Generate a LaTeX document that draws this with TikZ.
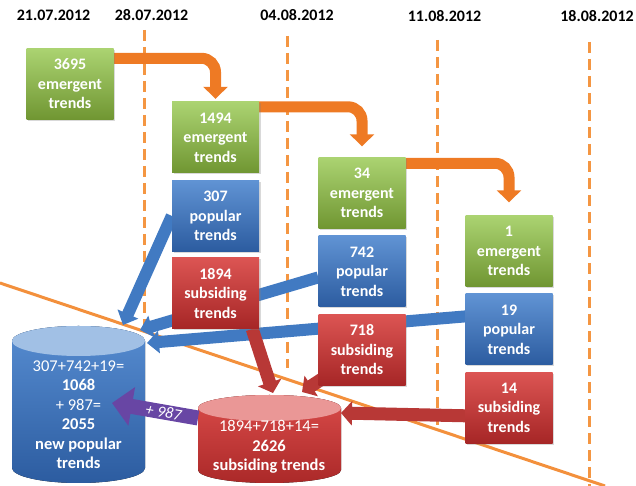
\documentclass[tikz,border=0pt]{standalone}
\usepackage{fontspec}
\setmainfont{Carlito}
\usepackage{tikz}
\usetikzlibrary{arrows.meta,positioning,shadows}
\definecolor{emergent}{RGB}{150,200,78}
\definecolor{emergentdark}{RGB}{112,150,50}
\definecolor{popular}{RGB}{68,128,204}
\definecolor{populardark}{RGB}{44,92,160}
\definecolor{subsiding}{RGB}{216,66,64}
\definecolor{subsidingdark}{RGB}{166,38,38}
\definecolor{weekcolor}{RGB}{244,150,66}
\definecolor{flow}{RGB}{238,122,36}
\definecolor{mixed}{RGB}{104,70,164}
\pgfdeclarelayer{back}
\pgfsetlayers{back,main}

\begin{document}
\begin{tikzpicture}[
  x=1pt, y=1pt,
  node distance=7pt,
  trendbox/.style={minimum width=87pt, minimum height=71pt, inner sep=0pt, align=center, text=white,
    font=\fontsize{16}{19.5}\selectfont\bfseries,
    drop shadow={opacity=0.3, shadow xshift=1.5pt, shadow yshift=-1.5pt}},
  emergentbox/.style={trendbox, top color=emergent!80!white, bottom color=emergentdark},
  popularbox/.style={trendbox, top color=popular!85!white, bottom color=populardark},
  subsidingbox/.style={trendbox, top color=subsiding!90!white, bottom color=subsidingdark},
  datelabel/.style={font=\fontsize{16}{19}\selectfont\bfseries},
  cyltext/.style={align=center, text=white, font=\fontsize{16.5}{19.5}\selectfont},
  weekline/.style={draw=weekcolor, line width=3pt, dash pattern=on 11pt off 6pt},
  cutline/.style={draw=weekcolor!80!flow, line width=3pt},
  flowarr/.style={-{Triangle[width=24pt,length=12pt]}, line width=11pt, draw=flow, rounded corners=14pt},
  poparr/.style={-{Triangle[width=22pt,length=12pt]}, line width=12pt, draw=popular!95!black},
  subarr/.style={-{Triangle[width=24pt,length=11pt]}, line width=13pt, draw=subsiding!85!black},
  mixarr/.style={-{Triangle[width=38pt,length=20pt]}, line width=15pt, draw=mixed}
]
  \useasboundingbox (0,0) rectangle (636,486);

  % dates
  \node[datelabel] (d1) at (53.5,471) {21.07.2012};
  \node[datelabel] (d2) at (151.5,471) {28.07.2012};
  \node[datelabel] (d3) at (297,471) {04.08.2012};
  \node[datelabel] (d4) at (444.5,470) {11.08.2012};
  \node[datelabel] (d5) at (597,470) {18.08.2012};

  % weekly trend boxes
  \node[emergentbox] (em1) at (70,402) {3695\\emergent\\trends};
  \node[emergentbox] (em2) at (215.5,348.5) {1494\\emergent\\trends};
  \node[popularbox, below=of em2] (pop2) {307\\popular\\trends};
  \node[subsidingbox, below=6pt of pop2] (sub2) {1894\\subsiding\\trends};
  \node[emergentbox] (em3) at (362,293) {34\\emergent\\trends};
  \node[popularbox, below=of em3] (pop3) {742\\popular\\trends};
  \node[subsidingbox, below=of pop3] (sub3) {718\\subsiding\\trends};
  \node[emergentbox] (em4) at (509,235) {1\\emergent\\trends};
  \node[popularbox, below=of em4] (pop4) {19\\popular\\trends};
  \node[subsidingbox, below=of pop4] (sub4) {14\\subsiding\\trends};

  % totals
  \node[cyltext] (popcyl) at (78.5,71.5) {307+742+19=\\\textbf{1068}\\+ 987=\\\textbf{2055}\\\textbf{new popular}\\\textbf{trends}};
  \node[cyltext] (subcyl) at (269,39) {1894+718+14=\\\textbf{2626}\\\textbf{subsiding trends}};
  \coordinate (popcyl in1) at (123,161);
  \coordinate (popcyl in2) at (140,156);
  \coordinate (popcyl in3) at (147,143);
  \coordinate (popcyl in4) at (112,83);
  \coordinate (subcyl in1) at (273,93);
  \coordinate (subcyl in2) at (302,94);
  \coordinate (subcyl in3) at (341,73);
  \coordinate (subcyl out) at (198,68);

  \begin{pgfonlayer}{back}
    % week lines
    \draw[weekline] (144,456) -- (144,156);
    \draw[weekline] (287,450) -- (287,118);
    \draw[weekline] (437,446) -- (437,58);
    \draw[weekline] (589,444) -- (589,0);
    % cylinders
    \fill[top color=popular!90!white, bottom color=populardark]
      (12,145) -- (12,18) arc[start angle=180, end angle=360, x radius=66.5, y radius=15]
      -- (145,145) arc[start angle=0, end angle=180, x radius=66.5, y radius=15] -- cycle;
    \fill[popular!50!white] (78.5,145) ellipse[x radius=66.5, y radius=15];
    \fill[top color=subsiding!95!white, bottom color=subsidingdark!90!subsiding]
      (198,78) -- (198,16) arc[start angle=180, end angle=360, x radius=71.5, y radius=13]
      -- (341,78) arc[start angle=0, end angle=180, x radius=71.5, y radius=13] -- cycle;
    \fill[subsiding!55!white] (269.5,78) ellipse[x radius=71.5, y radius=13];
    \draw[cutline] (0,203) -- (605,0);
    % flows
    \draw[flowarr] ([yshift=-10pt]em1.north east) -| ([yshift=3pt]em2.north);
    \draw[flowarr] ([yshift=-5pt]em2.north east) -| ([yshift=11pt]em3.north);
    \draw[flowarr] ([yshift=-6pt]em3.north east) -| ([yshift=13pt]em4.north);
    \draw[poparr] (pop2.west) -- (popcyl in1);
    \draw[poparr] ([yshift=-6pt]pop3.west) -- (popcyl in2);
    \draw[poparr] ([yshift=13pt]pop4.west) -- (popcyl in3);
    \draw[subarr] ([xshift=-7pt]sub2.south east) -- (subcyl in1);
    \draw[subarr] ([xshift=6pt,yshift=8pt]sub3.south west) -- (subcyl in2);
    \draw[subarr] ([yshift=-8pt]sub4.west) -- (subcyl in3);
    \draw[mixarr] (subcyl out) -- node[pos=0.4, sloped, text=white, font=\fontsize{16}{19}\selectfont\itshape] {+ 987} (popcyl in4);
  \end{pgfonlayer}
\end{tikzpicture}
\end{document}
